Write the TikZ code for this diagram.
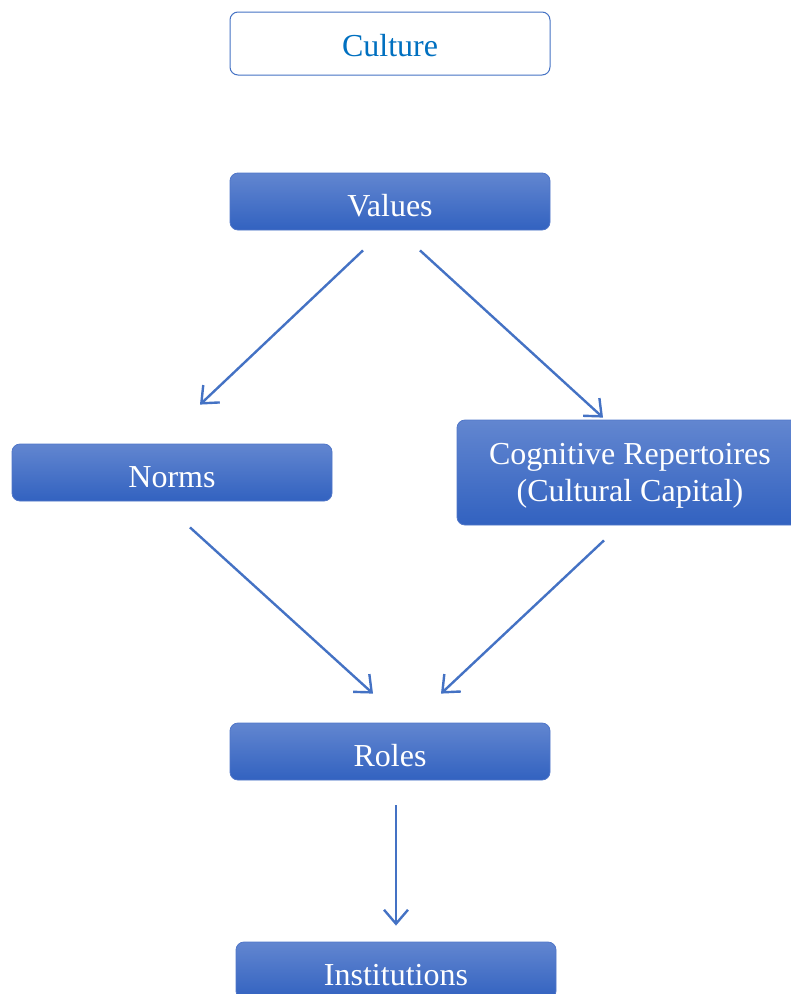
\documentclass[tikz,border=0pt]{standalone}
\usepackage{fontspec}
\setmainfont{Liberation Serif}
\usepackage{tikz}
\usetikzlibrary{arrows.meta,positioning,calc,shapes.geometric}

\definecolor{boxtop}{RGB}{98,134,208}
\definecolor{boxbot}{RGB}{50,98,192}
\definecolor{boxedge}{RGB}{80,118,200}
\definecolor{linecol}{RGB}{68,114,196}
\definecolor{culturetext}{RGB}{0,112,192}

\tikzset{
  bluebox/.style={rectangle,rounded corners=8pt,draw=boxedge,line width=0.8pt,top color=boxtop,bottom color=boxbot,text=white,minimum width=320pt,minimum height=57pt,font=\fontsize{32}{37}\selectfont,align=center,text depth=0pt},
  flow/.style={draw=linecol,line width=2.4pt,-{Straight Barb[length=14pt,width=24pt,line width=2.4pt]}}
}

\begin{document}
\begin{tikzpicture}[x=1pt,y=-1pt]
\useasboundingbox (0,0) rectangle (791,994);
\clip (0,0) rectangle (791,994);

% top box
\node[rectangle,rounded corners=8pt,draw=linecol,line width=1pt,fill=white,text=culturetext,minimum width=320pt,minimum height=63pt,font=\fontsize{32}{37}\selectfont,text height=25pt,text depth=0pt, name=culture] at (390,43.5) {Culture};

% blue boxes
\node[bluebox, text height=30pt, name=values] at (390,201.5) {Values};
\node[bluebox, text height=30pt, name=norms] at (172,472.5) {Norms};
\node[bluebox, minimum width=346pt, minimum height=105pt, name=cognitive] at (630,472.5) {Cognitive Repertoires\\(Cultural Capital)};
\node[bluebox, text height=30pt, name=roles] at (390,751.5) {Roles};
\node[bluebox, text height=30pt, name=institutions] at (396,970.5) {Institutions};

% arrows
\draw[flow] ($(values.south)+(-27,20)$) -- ($(norms.north)+(28,-39)$);
\draw[flow] ($(values.south)+(30,20)$) -- ($(cognitive.north)+(-27,-2)$);
\draw[flow] ($(norms.south)+(18,26)$) -- ($(roles.north)+(-17,-29)$);
\draw[flow] ($(cognitive.south)+(-26,15)$) -- ($(roles.north)+(51,-29)$);
\draw[flow] ($(roles.south)+(6,25)$) -- ($(institutions.north)+(0,-16)$);
\end{tikzpicture}
\end{document}
